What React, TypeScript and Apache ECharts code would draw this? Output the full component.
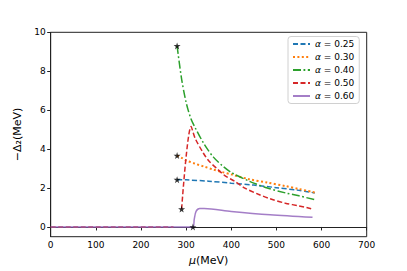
import React, { useEffect, useRef } from "react";
import * as echarts from "echarts";

const xTicks = [0, 100, 200, 300, 400, 500, 600, 700];
const yTicks = [0, 2, 4, 6, 8, 10];

const names = ["0.25", "0.30", "0.40", "0.50", "0.60"];
const colors = ["#1f77b4", "#ff7f0e", "#2ca02c", "#d62728", "#9467bd"];

const mu25 = [280, 300, 350, 400, 450, 500, 550, 585];
const d25 = [2.43, 2.42, 2.35, 2.25, 2.15, 2.02, 1.88, 1.75];

const mu30 = [280, 290, 300, 320, 340, 360, 380, 400, 440, 480, 520, 550, 585];
const d30 = [3.67, 3.55, 3.42, 3.25, 3.1, 2.95, 2.82, 2.7, 2.45, 2.28, 2.1, 1.95, 1.77];

const mu40 = [280, 290, 300, 310, 320, 340, 360, 380, 400, 440, 480, 520, 550, 585];
const d40 = [9.3, 7.6, 6.4, 5.6, 5.1, 4.25, 3.6, 3.15, 2.8, 2.35, 2.0, 1.75, 1.6, 1.4];

const mu50 = [290, 311, 320, 338, 350, 368, 385, 408, 430, 460, 486, 520, 550, 577];
const d50 = [0.92, 5.16, 4.55, 3.8, 3.4, 3.0, 2.65, 2.34, 2.0, 1.68, 1.45, 1.22, 1.08, 0.94];

const mu60 = [0, 315, 318, 322, 330, 340, 400, 486, 580];
const d60 = [0, 0, 0.4, 0.8, 0.95, 0.95, 0.8, 0.63, 0.5];

const zeroMu = [0, 272];
const zeroD = [0, 0];

const starMu = [280, 280, 280, 290, 315];
const starD = [9.3, 3.67, 2.43, 0.92, 0];

const pair = (xs: number[], ys: number[]) => xs.map((x, i) => [x, ys[i]]);

const STAR =
  "path://M50,0 L61,35 L98,35 L68,57 L79,91 L50,70 L21,91 L32,57 L2,35 L39,35 Z";

export default function App() {
  const ref = useRef<HTMLDivElement>(null);
  useEffect(() => {
    if (!ref.current) return;
    const chart = echarts.init(ref.current, undefined, { renderer: "svg" });
    const font = "DejaVu Sans";
    const dashes: any[] = [[5, 2.5], [2, 2.4], [8, 2.5, 1.8, 2.5], [5, 2.5], "solid"];
    const widths = [1.5, 2, 1.5, 1.5, 1.5];
    const datas = [
      pair(mu25, d25),
      pair(mu30, d30),
      pair(mu40, d40),
      pair(mu50, d50),
      pair(mu60, d60),
    ];
    const series: any[] = [
      {
        name: "_zero",
        type: "line",
        data: pair(zeroMu, zeroD),
        symbol: "none",
        lineStyle: { color: colors[3], width: 1.5, type: [5, 2.5] },
        z: 2,
      },
    ];
    names.forEach((n, i) => {
      series.push({
        name: n,
        type: "line",
        data: datas[i],
        symbol: "none",
        smooth: 0.3,
        lineStyle: { color: colors[i], width: widths[i], type: dashes[i], opacity: i === 4 ? 0.85 : 1 },
        itemStyle: { color: colors[i] },
        z: 3 + i,
      });
    });
    series.push({
      name: "_stars",
      type: "scatter",
      data: pair(starMu, starD),
      symbol: STAR,
      symbolSize: 7,
      itemStyle: { color: "#000" },
      z: 20,
    });
    chart.setOption({
      animation: false,
      textStyle: { fontFamily: font },
      grid: {
        left: 50.7,
        right: 40.3,
        top: 32.3,
        bottom: 34.3,
        show: true,
        borderColor: "#222",
        borderWidth: 1,
        backgroundColor: "transparent",
      },
      legend: {
        data: names,
        orient: "vertical",
        left: 288,
        top: 36.5,
        itemWidth: 17,
        itemHeight: 10,
        itemGap: 4,
        padding: [3, 5, 3, 4],
        borderColor: "#d0d0d0",
        borderWidth: 1,
        borderRadius: 3,
        backgroundColor: "#fff",
        itemStyle: { opacity: 0 },
        formatter: (n: string) => `{i|α} = ${n}`,
        textStyle: {
          fontFamily: font,
          fontSize: 9,
          color: "#000",
          rich: { i: { fontStyle: "italic", fontFamily: font, fontSize: 9 } },
        },
      },
      xAxis: {
        type: "value",
        min: 0,
        max: 700,
        interval: 100,
        name: "{i|μ}(MeV)",
        nameLocation: "middle",
        nameGap: 16,
        nameTextStyle: {
          fontSize: 11,
          color: "#000",
          fontFamily: font,
          rich: { i: { fontStyle: "italic", fontSize: 11, fontFamily: font } },
        },
        axisLine: { show: true, lineStyle: { color: "#222" } },
        axisTick: { show: true, length: 3.5, lineStyle: { color: "#222" } },
        axisLabel: { margin: 4, fontSize: 9, color: "#000", fontFamily: font },
        splitLine: { show: false },
      },
      yAxis: {
        type: "value",
        min: -0.5,
        max: 10,
        name: "−Δ₂(MeV)",
        nameLocation: "middle",
        nameGap: 18,
        nameTextStyle: { fontSize: 11, color: "#000", fontFamily: font },
        axisLine: { show: true, lineStyle: { color: "#222" } },
        axisTick: { show: true, length: 3.5, customValues: yTicks, lineStyle: { color: "#222" } },
        axisLabel: { margin: 5, fontSize: 9, color: "#000", fontFamily: font, customValues: yTicks },
        splitLine: { show: false },
      },
      series,
    });
    return () => chart.dispose();
  }, []);
  return <div ref={ref} style={{ width: 407, height: 271, position: "absolute", left: 0, top: 0 }} />;
}
